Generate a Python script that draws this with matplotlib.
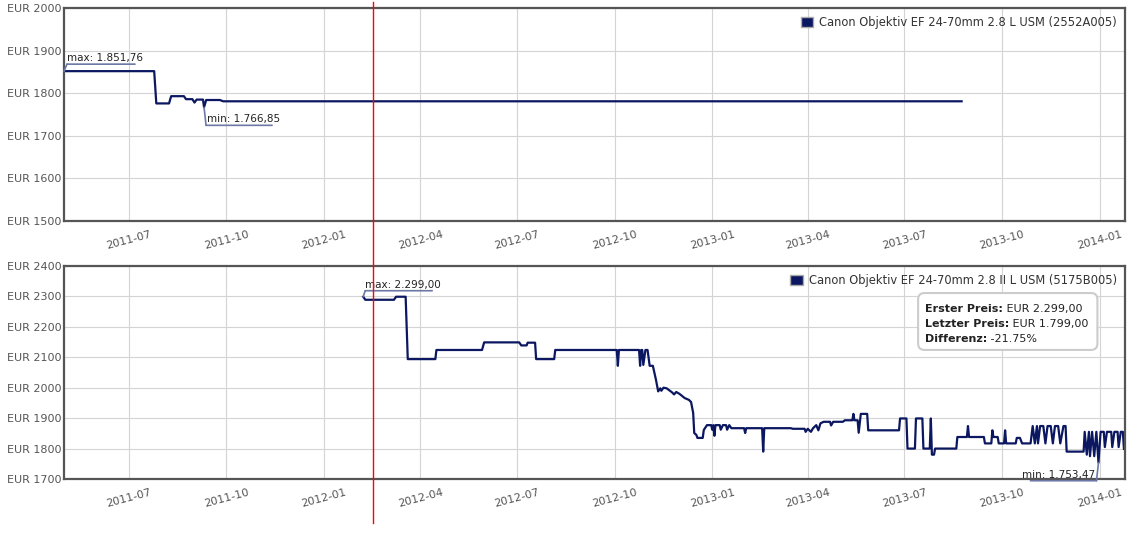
import matplotlib
matplotlib.use("Agg")
import pandas as pd
import matplotlib.pyplot as plt
import matplotlib.dates as mdates
from matplotlib.lines import Line2D
from matplotlib.patches import Patch, FancyBboxPatch
from matplotlib.ticker import FuncFormatter
from matplotlib.transforms import offset_copy, blended_transform_factory

# Preisverlauf Canon EF 24-70mm 2.8 L USM (2552A005)
top_dates = ["2011-05-01", "2011-07-25", "2011-07-27", "2011-08-08", "2011-08-10",
             "2011-08-22", "2011-08-24", "2011-08-30", "2011-09-01", "2011-09-03",
             "2011-09-09", "2011-09-10", "2011-09-12", "2011-09-25", "2011-09-28",
             "2013-08-24"]
top_prices = [1851.76, 1851.76, 1776, 1776, 1793, 1793, 1786, 1786, 1778, 1785,
              1785, 1766.85, 1784, 1784, 1781, 1781]

# Preisverlauf Canon EF 24-70mm 2.8 II L USM (5175B005)
bot_dates = [
    "2012-02-07", "2012-02-09", "2012-03-07", "2012-03-09", "2012-03-18", "2012-03-20",
    "2012-04-15", "2012-04-16", "2012-05-29", "2012-05-31", "2012-07-03", "2012-07-05",
    "2012-07-10", "2012-07-11", "2012-07-18", "2012-07-19", "2012-08-05", "2012-08-06",
    "2012-10-03", "2012-10-04", "2012-10-05", "2012-10-24", "2012-10-25", "2012-10-26",
    "2012-10-27", "2012-10-28", "2012-10-30", "2012-11-01", "2012-11-03", "2012-11-06",
    "2012-11-09", "2012-11-11", "2012-11-13", "2012-11-14", "2012-11-16", "2012-11-19",
    "2012-11-22", "2012-11-24", "2012-11-26", "2012-11-28", "2012-12-01", "2012-12-06",
    "2012-12-10", "2012-12-12", "2012-12-14", "2012-12-15", "2012-12-17", "2012-12-18",
    "2012-12-23", "2012-12-24", "2012-12-27", "2012-12-31", "2013-01-01", "2013-01-02",
    "2013-01-03", "2013-01-04", "2013-01-08", "2013-01-09", "2013-01-11", "2013-01-14",
    "2013-01-15", "2013-01-17", "2013-01-19", "2013-01-31", "2013-02-01", "2013-02-02",
    "2013-02-17", "2013-02-18", "2013-02-19", "2013-03-16", "2013-03-18", "2013-03-29",
    "2013-03-30", "2013-04-01", "2013-04-04", "2013-04-06", "2013-04-09", "2013-04-11",
    "2013-04-13", "2013-04-16", "2013-04-22", "2013-04-23", "2013-04-25", "2013-05-04",
    "2013-05-06", "2013-05-13", "2013-05-14", "2013-05-15", "2013-05-18", "2013-05-19",
    "2013-05-21", "2013-05-27", "2013-05-28", "2013-06-26", "2013-06-27", "2013-07-03",
    "2013-07-04", "2013-07-11", "2013-07-12", "2013-07-18", "2013-07-19", "2013-07-25",
    "2013-07-26", "2013-07-27", "2013-07-29", "2013-07-30", "2013-08-19", "2013-08-20",
    "2013-08-29", "2013-08-30", "2013-08-31", "2013-09-14", "2013-09-15", "2013-09-21",
    "2013-09-22", "2013-09-23", "2013-09-27", "2013-09-28", "2013-10-03", "2013-10-04",
    "2013-10-05", "2013-10-14", "2013-10-15", "2013-10-18", "2013-10-20", "2013-10-28",
    "2013-10-30", "2013-11-01", "2013-11-03", "2013-11-04", "2013-11-06", "2013-11-09",
    "2013-11-11", "2013-11-13", "2013-11-16", "2013-11-18", "2013-11-20", "2013-11-23",
    "2013-11-25", "2013-11-28", "2013-11-30", "2013-12-01", "2013-12-17", "2013-12-18",
    "2013-12-20", "2013-12-22", "2013-12-23", "2013-12-25", "2013-12-27", "2013-12-29",
    "2013-12-31", "2014-01-02", "2014-01-05", "2014-01-06", "2014-01-08", "2014-01-12",
    "2014-01-13", "2014-01-15", "2014-01-18", "2014-01-19", "2014-01-21", "2014-01-23",
    "2014-01-24"]
bot_prices = [
    2299, 2289, 2289, 2299, 2299, 2094,
    2094, 2124, 2124, 2149, 2149, 2139,
    2139, 2148, 2148, 2094, 2094, 2124,
    2124, 2072, 2124, 2124, 2072, 2124,
    2124, 2075, 2124, 2124, 2072, 2072,
    2025, 1988, 1998, 1990, 2000, 1998,
    1990, 1985, 1978, 1986, 1980, 1966,
    1960, 1953, 1917, 1851, 1845, 1835,
    1835, 1861, 1877, 1877, 1862, 1877,
    1842, 1877, 1877, 1862, 1877, 1877,
    1862, 1877, 1867, 1867, 1851, 1867,
    1867, 1790, 1867, 1867, 1865, 1865,
    1855, 1865, 1855, 1867, 1877, 1860,
    1883, 1888, 1888, 1876, 1888, 1888,
    1893, 1893, 1914, 1893, 1893, 1852,
    1914, 1914, 1860, 1860, 1899, 1899,
    1800, 1800, 1899, 1899, 1800, 1800,
    1899, 1780, 1780, 1800, 1800, 1838,
    1838, 1874, 1838, 1838, 1817, 1817,
    1860, 1838, 1838, 1817, 1817, 1860,
    1817, 1817, 1835, 1835, 1817, 1817,
    1874, 1817, 1874, 1817, 1874, 1874,
    1817, 1874, 1874, 1817, 1874, 1874,
    1817, 1874, 1874, 1790, 1790, 1855,
    1780, 1855, 1775, 1855, 1775, 1855,
    1753.47, 1855, 1855, 1805, 1855, 1855,
    1805, 1855, 1855, 1805, 1855, 1855,
    1799]

top_label = "Canon Objektiv EF 24-70mm 2.8 L USM (2552A005)"
bot_label = "Canon Objektiv EF 24-70mm 2.8 II L USM (5175B005)"
tooltip_keys = ["Erster Preis:", "Letzter Preis:", "Differenz:"]
tooltip_vals = [" EUR 2.299,00", " EUR 1.799,00", " -21.75%"]
hover_date = "2012-02-16"

navy = "#0b1760"
link = "#6c78a6"

top_dates = pd.to_datetime(top_dates)
bot_dates = pd.to_datetime(bot_dates)

fig = plt.figure(figsize=(11.38, 5.37), dpi=100)
ax1 = fig.add_axes([64 / 1138, 1 - 221 / 537, 1061 / 1138, 213 / 537])
ax2 = fig.add_axes([64 / 1138, 1 - 479 / 537, 1061 / 1138, 213 / 537])


def style(ax, ymin, ymax):
    ax.set_xlim(pd.Timestamp("2011-05-01"), pd.Timestamp("2014-01-25"))
    ax.set_ylim(ymin, ymax)
    ax.set_yticks(range(ymin, ymax + 1, 100))
    ax.yaxis.set_major_formatter(FuncFormatter(lambda v, p: f"EUR {v:.0f}"))
    ax.xaxis.set_major_locator(mdates.MonthLocator(bymonth=[1, 4, 7, 10]))
    ax.xaxis.set_major_formatter(mdates.DateFormatter("%Y-%m"))
    ax.grid(color="#d4d4d4", lw=0.8)
    ax.set_axisbelow(True)
    ax.tick_params(length=0, labelsize=8, labelcolor="#555555")
    ax.tick_params(axis="y", pad=2)
    ax.tick_params(axis="x", pad=6, labelrotation=15)
    for s in ax.spines.values():
        s.set_color("#555555")
        s.set_linewidth(1.6)


def callout(ax, d, v, text, path, txt_off, ha="left"):
    # path: pixel offsets from the data point (connector + underline)
    x = mdates.date2num(d)
    pts = [(0, 0)] + path
    for (ax0, ay0), (bx, by) in zip(pts[:-1], pts[1:]):
        ax.annotate("", xy=(x, v),
                    xycoords=offset_copy(ax.transData, fig=fig, x=bx, y=by, units="dots"),
                    xytext=(x, v),
                    textcoords=offset_copy(ax.transData, fig=fig, x=ax0, y=ay0, units="dots"),
                    arrowprops=dict(arrowstyle="-", color=link, lw=1.2,
                                    shrinkA=0, shrinkB=0),
                    annotation_clip=False)
    ax.annotate(text, xy=(x, v), xytext=txt_off, textcoords="offset pixels",
                fontsize=7.5, color="#222222", ha=ha, va="bottom",
                annotation_clip=False)


style(ax1, 1500, 2000)
style(ax2, 1700, 2400)

ax1.plot(top_dates, top_prices, color=navy, lw=1.6)
ax2.plot(bot_dates, bot_prices, color=navy, lw=1.6)

for ax, lab in [(ax1, top_label), (ax2, bot_label)]:
    ax.legend(handles=[Patch(facecolor=navy, edgecolor="#aaaaaa", label=lab)],
              loc="upper right", frameon=False, fontsize=8.3, handlelength=1.1,
              handleheight=0.9, handletextpad=0.5, borderaxespad=0.3,
              labelcolor="#333333")

# max / min markers
i = top_prices.index(max(top_prices))
callout(ax1, top_dates[i], top_prices[i], "max: 1.851,76", [(3, 7), (71, 7)], (3, 8))
i = top_prices.index(min(top_prices))
callout(ax1, top_dates[i], top_prices[i], "min: 1.766,85", [(2, -18), (68, -18)], (3, -17))
i = bot_prices.index(max(bot_prices))
callout(ax2, bot_dates[i], bot_prices[i], "max: 2.299,00", [(2, 6), (69, 6)], (2, 7))
i = bot_prices.index(min(bot_prices))
callout(ax2, bot_dates[i], bot_prices[i], "min: 1.753,47", [(-2, -18), (-68, -18)], (-3, -17),
        ha="right")

# tooltip box
box = FancyBboxPatch((0.805, 0.606), 0.169, 0.267, transform=ax2.transAxes,
                     boxstyle="round,pad=0,rounding_size=0.006", mutation_aspect=4.98,
                     facecolor="white", edgecolor="#cccccc", lw=1.5, zorder=5)
ax2.add_patch(box)
for k, (key, val) in enumerate(zip(tooltip_keys, tooltip_vals)):
    t = ax2.text(0.8115, 0.80 - k * 0.072, key, transform=ax2.transAxes, fontsize=8,
                 fontweight="bold", color="#222222", va="center", ha="left", zorder=6)
    ax2.annotate(val, xy=(1, 0), xycoords=t, fontsize=8, color="#222222",
                 va="bottom", ha="left", zorder=6)

# hover crosshair across both panels
tr = blended_transform_factory(ax2.transData, fig.transFigure)
hx = mdates.date2num(pd.Timestamp(hover_date))
fig.add_artist(Line2D([hx, hx], [1 - 523 / 537, 1 - 2 / 537], transform=tr,
                      color="#ff0000", lw=1.0))

plt.savefig("out.png", dpi=100)
